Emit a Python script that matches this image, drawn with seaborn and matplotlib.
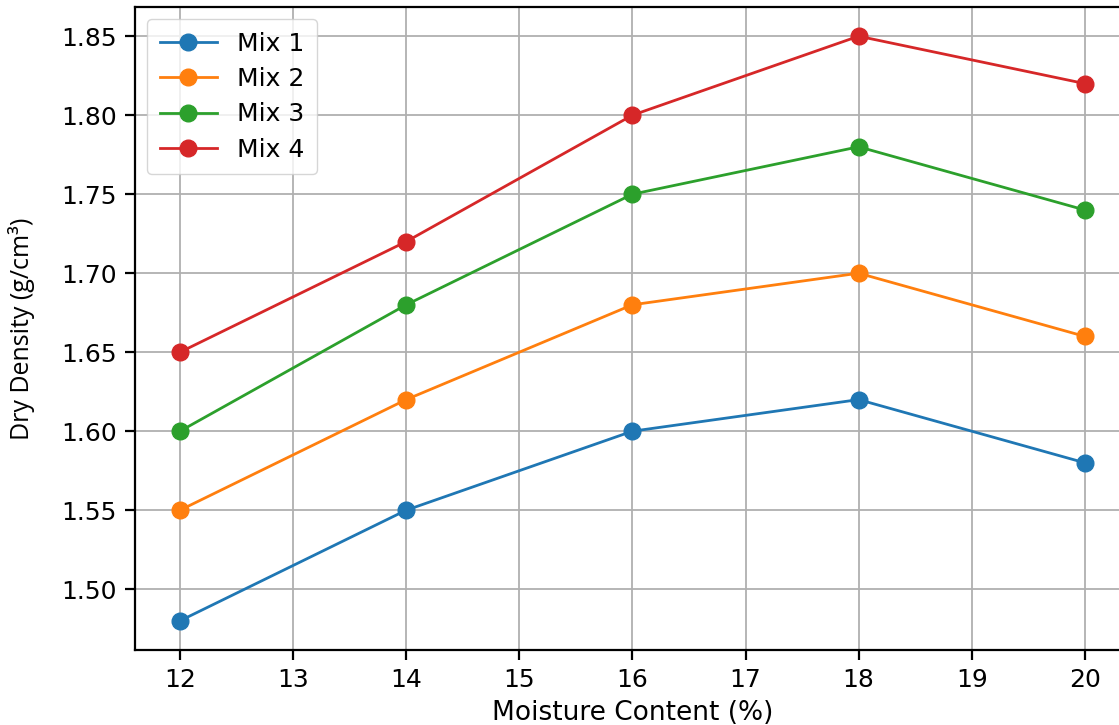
import matplotlib
matplotlib.use("Agg")
import matplotlib.pyplot as plt
import seaborn as sns
import pandas as pd

moisture = [12, 14, 16, 18, 20]
mix1 = [1.48, 1.55, 1.60, 1.62, 1.58]
mix2 = [1.55, 1.62, 1.68, 1.70, 1.66]
mix3 = [1.60, 1.68, 1.75, 1.78, 1.74]
mix4 = [1.65, 1.72, 1.80, 1.85, 1.82]
labels = ["Mix 1", "Mix 2", "Mix 3", "Mix 4"]
colors = ["#1f77b4", "#ff7f0e", "#2ca02c", "#d62728"]

fig = plt.figure(figsize=(11.19, 7.25), dpi=100)
ax = fig.add_axes([0.1204, 0.1034, 0.8895, 0.887])

FS = 18
for vals, lab, c in zip([mix1, mix2, mix3, mix4], labels, colors):
    df = pd.DataFrame({"x": moisture, "y": vals})
    sns.lineplot(data=df, x="x", y="y", ax=ax, color=c, marker="o",
                 markersize=12, markeredgecolor=c, markeredgewidth=1,
                 linewidth=2.0, label=lab)

ax.grid(True, color="#b0b0b0", linewidth=1.3)
ax.set_axisbelow(True)
for s in ax.spines.values():
    s.set_linewidth(1.6)
ax.tick_params(labelsize=FS, width=1.6, length=7, pad=6)
ax.set_xlabel("Moisture Content (%)", fontsize=19, labelpad=6)
ax.set_ylabel("Dry Density (g/cm³)", fontsize=FS, family=["Open Sans", "DejaVu Sans"], labelpad=19)
ax.legend(loc="upper left", fontsize=FS, borderpad=0.5, handlelength=2.3,
          labelspacing=0.45, borderaxespad=0.5)

fig.savefig("out.png", dpi=100)
